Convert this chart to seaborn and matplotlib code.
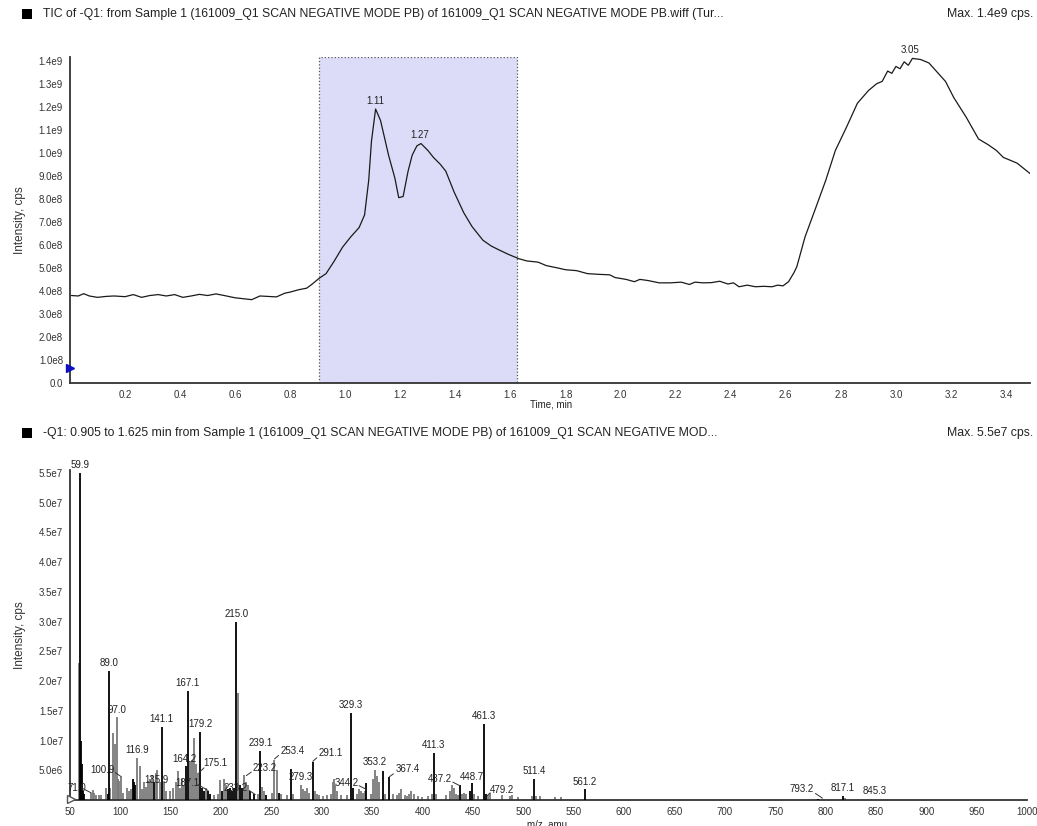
import numpy as np
import pandas as pd
import matplotlib
matplotlib.use("Agg")
import matplotlib.pyplot as plt
from matplotlib.ticker import MultipleLocator, FuncFormatter, FixedLocator
from matplotlib.patches import Rectangle
import seaborn as sns

# ---------------- DATA ----------------
# TIC chromatogram (time in min, intensity in 1e8 cps)
tic_time = [0.005, 0.03, 0.05, 0.07, 0.10, 0.13, 0.16, 0.20, 0.23, 0.26, 0.29, 0.32,
            0.35, 0.38, 0.41, 0.44, 0.47, 0.50, 0.53, 0.56, 0.60, 0.63, 0.66, 0.69,
            0.72, 0.75, 0.78, 0.80, 0.83, 0.86, 0.88,
            0.905, 0.93, 0.96, 0.99, 1.02, 1.05, 1.07, 1.085, 1.095, 1.11, 1.128,
            1.157, 1.18, 1.194, 1.21, 1.228, 1.243, 1.26, 1.275, 1.30, 1.32, 1.345,
            1.365, 1.395, 1.43, 1.46, 1.50, 1.53, 1.555, 1.59, 1.63, 1.66, 1.70,
            1.73, 1.77, 1.80, 1.84, 1.88, 1.92, 1.96, 1.98, 2.02, 2.05, 2.07, 2.10,
            2.14, 2.18, 2.22, 2.25, 2.27, 2.30, 2.33, 2.36, 2.39, 2.41, 2.43, 2.46,
            2.49, 2.52, 2.55, 2.57, 2.59, 2.61, 2.63, 2.64, 2.67, 2.71, 2.745, 2.78,
            2.82, 2.86, 2.90, 2.93, 2.95, 2.97, 2.985, 3.00, 3.015, 3.03, 3.045,
            3.06, 3.09, 3.12, 3.15, 3.18, 3.21, 3.255, 3.30, 3.335, 3.365, 3.39,
            3.44, 3.487]
tic_int = [3.80, 3.78, 3.88, 3.78, 3.72, 3.76, 3.78, 3.75, 3.84, 3.72, 3.80, 3.84,
           3.78, 3.84, 3.72, 3.78, 3.85, 3.80, 3.87, 3.80, 3.70, 3.66, 3.62, 3.78,
           3.76, 3.74, 3.90, 3.95, 4.05, 4.12, 4.30,
           4.55, 4.75, 5.30, 5.90, 6.35, 6.75, 7.30, 8.80, 10.5, 11.9, 11.4,
           9.9, 8.9, 8.05, 8.1, 9.2, 9.9, 10.3, 10.4, 10.1, 9.8, 9.5,
           9.2, 8.3, 7.4, 6.8, 6.2, 5.95, 5.8, 5.6, 5.4, 5.3, 5.25,
           5.1, 5.0, 4.92, 4.88, 4.75, 4.72, 4.70, 4.58, 4.50, 4.40, 4.50, 4.45,
           4.35, 4.35, 4.38, 4.28, 4.38, 4.35, 4.36, 4.42, 4.30, 4.35, 4.18, 4.25,
           4.18, 4.20, 4.18, 4.25, 4.22, 4.40, 4.80, 5.05, 6.35, 7.65, 8.8, 10.1,
           11.1, 12.15, 12.7, 13.0, 13.1, 13.55, 13.45, 13.75, 13.65, 13.95, 13.8,
           14.1, 14.05, 13.9, 13.5, 13.1, 12.4, 11.55, 10.6, 10.35, 10.1, 9.8,
           9.55, 9.1]
tic_peak_labels = [1.11, 1.27, 3.05]
tic_peak_heights = [11.9, 10.4, 14.1]
selection = (0.905, 1.625)

# Mass spectrum (m/z, intensity in 1e6 cps, shade: 1 = black, 0 = grey)
ms_mz = [52, 59, 60, 61, 62, 63, 64, 71, 73, 74, 76, 79, 81, 86, 88, 89, 90, 93, 95,
         97, 98, 99, 101, 103, 107, 109, 111, 113, 114, 115, 117, 119, 121, 123, 125,
         127, 129, 131, 133, 135, 136, 139, 141, 143, 145, 149, 152, 155, 157, 159,
         161, 163, 165, 167, 169, 171, 173, 175, 177, 179, 181, 183, 185, 187, 189,
         193, 197, 199, 201, 203, 205, 207, 209, 211, 213, 215, 217, 219, 221, 223,
         225, 227, 229, 233, 237, 239, 241, 243, 245, 251, 253, 255, 257, 259, 265,
         269, 271, 279, 281, 283, 285, 287, 291, 293, 295, 297, 301, 305, 309, 311,
         312, 313, 315, 319, 325, 329, 331, 335, 337, 339, 341, 343, 344, 349, 351,
         353, 355, 357, 361, 363, 367, 371, 375, 377, 379, 383, 385, 387, 389, 391,
         395, 399, 405, 409, 411, 413, 423, 427, 429, 431, 433, 435, 437, 439, 441,
         443, 447, 449, 451, 455, 461, 463, 465, 467, 479, 487, 489, 495, 509, 511,
         513, 517, 531, 537, 561, 793, 817, 819, 845]
ms_int = [0.3, 23.0, 55.0, 10.0, 6.0, 1.5, 1.0, 1.2, 1.6, 1.2, 0.8, 0.9, 0.9, 2.0, 1.0,
          21.7, 2.0, 11.3, 9.5, 13.9, 3.5, 3.2, 3.8, 1.2, 2.0, 1.5, 1.8, 3.5, 3.0, 2.5,
          7.1, 5.7, 1.8, 3.0, 2.2, 3.2, 3.5, 4.2, 3.0, 4.5, 5.0, 3.0, 12.3, 3.0, 1.5,
          1.5, 2.0, 3.0, 4.8, 2.0, 3.5, 2.5, 5.8, 18.3, 6.5, 6.8, 10.5, 6.0, 4.5, 11.5,
          2.0, 1.5, 2.0, 1.5, 1.0, 0.8, 1.0, 3.4, 1.5, 3.5, 2.5, 1.8, 2.0, 1.5, 2.0,
          30.0, 18.0, 2.5, 2.0, 4.2, 3.0, 2.5, 1.5, 1.0, 1.0, 8.2, 2.2, 1.5, 0.8, 1.2,
          6.8, 5.0, 1.2, 1.0, 0.8, 5.2, 1.0, 2.5, 1.8, 1.5, 2.0, 1.2, 6.4, 1.5, 1.0,
          0.8, 0.7, 0.8, 1.0, 3.0, 3.5, 2.5, 1.5, 0.8, 0.8, 14.6, 2.0, 1.0, 1.8, 1.5,
          1.2, 1.5, 2.8, 1.0, 3.5, 5.0, 4.0, 3.0, 4.8, 1.0, 3.8, 1.0, 0.8, 1.2, 1.8,
          0.8, 0.7, 1.0, 1.5, 1.0, 0.7, 0.5, 0.6, 1.0, 7.9, 1.0, 0.8, 1.5, 2.5, 2.0,
          1.0, 0.8, 2.5, 1.0, 1.2, 1.0, 1.5, 2.8, 1.0, 0.6, 12.8, 1.0, 0.8, 1.2, 0.9,
          0.6, 0.8, 0.5, 0.6, 3.6, 0.7, 0.6, 0.5, 0.5, 1.8, 0.2, 0.7, 0.4, 0.2]
ms_dark = [0, 0, 1, 1, 1, 1, 1, 0, 0, 0, 0, 0, 0, 0, 1, 1, 0, 0, 0, 0, 0, 0, 0, 0, 0,
           0, 0, 1, 1, 1, 0, 0, 0, 0, 0, 0, 0, 0, 1, 0, 0, 0, 1, 0, 0, 0, 0, 0, 0, 0,
           0, 0, 1, 1, 0, 0, 0, 0, 0, 1, 1, 1, 0, 1, 1, 0, 0, 0, 1, 0, 0, 1, 1, 1, 1,
           1, 0, 1, 1, 0, 0, 0, 1, 1, 0, 1, 0, 0, 1, 0, 0, 0, 1, 0, 0, 1, 0, 0, 0, 0,
           0, 0, 1, 0, 0, 0, 0, 0, 0, 0, 0, 0, 0, 0, 0, 1, 1, 0, 0, 0, 0, 0, 1, 0, 0,
           0, 0, 0, 1, 0, 1, 0, 0, 0, 0, 0, 0, 0, 0, 0, 0, 0, 0, 0, 1, 0, 0, 0, 0, 0,
           0, 0, 1, 0, 0, 0, 1, 1, 0, 0, 1, 1, 0, 0, 0, 0, 0, 0, 0, 1, 0, 0, 0, 0, 1,
           1, 1, 0, 0]
# labelled peaks
ms_labels = ["59.9", "71.0", "89.0", "97.0", "100.9", "116.9", "135.9", "141.1",
             "164.2", "167.1", "187.1", "175.1", "179.2", "215.0", "233.2", "223.2",
             "239.1", "253.4", "279.3", "291.1", "329.3", "344.2", "353.2", "367.4",
             "411.3", "437.2", "448.7", "461.3", "479.2", "511.4", "561.2", "793.2",
             "817.1", "845.3"]

title_top = "TIC of -Q1: from Sample 1 (161009_Q1 SCAN NEGATIVE MODE PB) of 161009_Q1 SCAN NEGATIVE MODE PB.wiff (Tur..."
title_bot = "-Q1: 0.905 to 1.625 min from Sample 1 (161009_Q1 SCAN NEGATIVE MODE PB) of 161009_Q1 SCAN NEGATIVE MOD..."
max_top = "Max. 1.4e9 cps."
max_bot = "Max. 5.5e7 cps."

# ---------------- STYLE / LAYOUT ----------------
sns.set_style("white")
plt.rcParams["font.family"] = ["Liberation Sans", "DejaVu Sans"]
TXT = "#222222"
FS = 7

# label layout: text centre x, text bottom y (1e6), optional leader (x0, y0, x1, y1)
label_layout = {
    "71.0": (57, 1.2, (63, 1.9, 71, 1.2)),
    "100.9": (82, 4.2, (95, 4.6, 101, 3.9)),
    "135.9": (136, 2.6, None),
    "164.2": (164, 6.1, None),
    "187.1": (167, 2.1, (177, 2.6, 187, 1.6)),
    "175.1": (194, 5.3, (183, 5.4, 178, 4.6)),
    "233.2": (214, 1.1, (228, 1.6, 234, 0.9)),
    "223.2": (243, 4.6, (230, 4.7, 225, 4.1)),
    "253.4": (271, 7.4, (257, 7.5, 253, 6.9)),
    "291.1": (309, 7.0, (295, 7.1, 291, 6.5)),
    "344.2": (325, 2.1, (337, 2.4, 344, 1.8)),
    "367.4": (385, 4.3, (371, 4.4, 367, 3.9)),
    "437.2": (417, 2.7, (430, 3.0, 437, 2.4)),
    "448.7": (449, 3.0, None),
    "479.2": (479, 0.8, (467, 1.2, 464, 0.7)),
    "793.2": (776, 1.0, (790, 1.1, 797, 0.3)),
    "845.3": (849, 0.6, None),
}

fig = plt.figure(figsize=(10.37, 8.26), dpi=100)
W, H = 1037, 826


def fx(px):
    return px / W


def fy(py):
    return 1 - py / H


ax1 = fig.add_axes([fx(70), fy(383), fx(1030) - fx(70), fy(57) - fy(383)])
ax2 = fig.add_axes([fx(70), fy(800), fx(1027) - fx(70), fy(470) - fy(800)])


def sci(v, pos=None):
    if abs(v) < 1e-9:
        return "0.0"
    e = int(np.floor(np.log10(abs(v)) + 1e-9))
    m = v / 10 ** e
    return f"{m:.1f}e{e}"


def style_axis(ax):
    for s in ["top", "right"]:
        ax.spines[s].set_visible(False)
    for s in ["left", "bottom"]:
        ax.spines[s].set_color("#333333")
        ax.spines[s].set_linewidth(1.3)
    ax.tick_params(axis="both", which="major", direction="out", length=3, width=0.9,
                   color="#333333", labelsize=FS, labelcolor="#333333", pad=2)
    ax.tick_params(axis="both", which="minor", direction="out", length=1.5, width=0.7,
                   color="#333333")
    ax.grid(False)


# ---------- top: TIC ----------
tic_df = pd.DataFrame({"t": tic_time, "I": np.array(tic_int) * 1e8})
ax1.axvspan(selection[0], selection[1], ymin=0, ymax=1, facecolor="#dcdcf8",
            edgecolor="#555555", linestyle=":", linewidth=0.9, zorder=0)
sns.lineplot(data=tic_df, x="t", y="I", ax=ax1, color="#1a1a1a", linewidth=0.9,
             estimator=None, sort=False, zorder=3)
ax1.set_xlim(0.0, 3.487)
ax1.set_ylim(0, 1.416e9)
ax1.xaxis.set_major_locator(FixedLocator(np.round(np.arange(0.2, 3.41, 0.2), 1)))
ax1.xaxis.set_major_formatter(FuncFormatter(lambda v, p: f"{v:.1f}"))
ax1.xaxis.set_minor_locator(MultipleLocator(0.1))
ax1.yaxis.set_major_locator(MultipleLocator(1e8))
ax1.yaxis.set_minor_locator(MultipleLocator(0.5e8))
ax1.yaxis.set_major_formatter(FuncFormatter(sci))
style_axis(ax1)
ax1.set_xlabel("Time, min", fontsize=FS, color=TXT, labelpad=1)
ax1.xaxis.set_label_coords((551 - 70) / 960, -0.052)
ax1.set_ylabel("Intensity, cps", fontsize=8.5, color="#333333", labelpad=6)
ax1.yaxis.set_label_coords(-0.046, 0.5)
for t, h in zip(tic_peak_labels, tic_peak_heights):
    ax1.annotate(f"{t:.2f}", xy=(t, h * 1e8), xytext=(0, 2.5), textcoords="offset points",
                 ha="center", va="bottom", fontsize=FS, color=TXT, annotation_clip=False)
ax1.plot([0.0], [0.65e8], marker=">", color="#1010c0", markersize=6, clip_on=False,
         linestyle="none", zorder=5)

# ---------- bottom: spectrum ----------
mz = np.array(ms_mz)
inten = np.array(ms_int) * 1e6
dark = np.array(ms_dark) == 1
ax2.vlines(mz[~dark], 0, inten[~dark], colors="#7a7a7a", linewidth=1.3, zorder=2)
ax2.vlines(mz[dark], 0, inten[dark], colors="#000000", linewidth=1.3, zorder=3)
ax2.set_xlim(50, 1000)
ax2.set_ylim(0, 5.55e7)
ax2.xaxis.set_major_locator(MultipleLocator(50))
ax2.xaxis.set_minor_locator(MultipleLocator(10))
ax2.xaxis.set_major_formatter(FuncFormatter(lambda v, p: f"{v:.0f}"))
ax2.yaxis.set_major_locator(FixedLocator(np.arange(5e6, 5.51e7, 5e6)))
ax2.yaxis.set_minor_locator(MultipleLocator(1e6))
ax2.yaxis.set_major_formatter(FuncFormatter(sci))
style_axis(ax2)
ax2.set_xlabel("m/z, amu", fontsize=FS, color=TXT, labelpad=1)
ax2.xaxis.set_label_coords((547 - 70) / 957, -0.06)
ax2.set_ylabel("Intensity, cps", fontsize=8.5, color="#333333", labelpad=6)
ax2.yaxis.set_label_coords(-0.046, 0.5)
ax2.plot([50.5], [0.1e6], marker=">", markerfacecolor="white", markeredgecolor="#555555",
         markersize=6, clip_on=False, linestyle="none", zorder=5)

for lab in ms_labels:
    val = float(lab)
    idx = int(np.argmin(np.abs(mz - val)))
    pk_x, pk_y = mz[idx], inten[idx]
    if lab in label_layout:
        cx, by, lead = label_layout[lab]
        ax2.text(cx, by * 1e6, lab, ha="center", va="bottom", fontsize=FS, color=TXT,
                 clip_on=False, zorder=6)
        if lead is not None:
            x0, y0, x1, y1 = lead
            ax2.plot([x0, x1], [y0 * 1e6, y1 * 1e6], color="#333333", linewidth=0.7,
                     zorder=6)
    else:
        ax2.annotate(lab, xy=(pk_x, pk_y), xytext=(0, 2), textcoords="offset points",
                     ha="center", va="bottom", fontsize=FS, color=TXT,
                     annotation_clip=False, zorder=6)

# ---------- headers ----------
for py, title, mx in [(14, title_top, max_top), (433, title_bot, max_bot)]:
    fig.patches.append(Rectangle((fx(22), fy(py + 5)), fx(10), 10 / H,
                                 transform=fig.transFigure, facecolor="black",
                                 edgecolor="none"))
    fig.text(fx(43), fy(py), title, ha="left", va="center", fontsize=8.8, color=TXT)
    fig.text(fx(1033), fy(py), mx, ha="right", va="center", fontsize=8.8, color=TXT)

fig.savefig("out.png", dpi=100, facecolor="white")
